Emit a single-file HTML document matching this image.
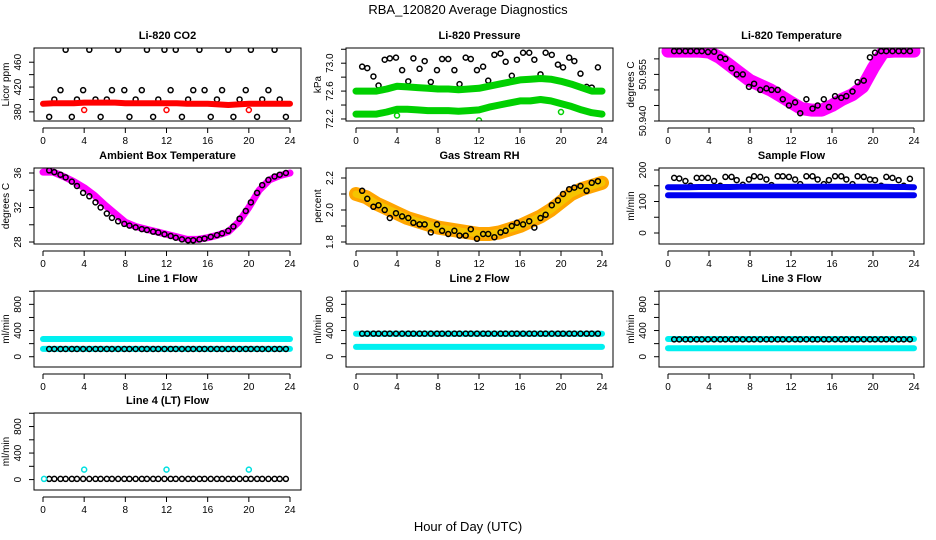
<!DOCTYPE html>
<html><head><meta charset="utf-8"><style>
html,body{margin:0;padding:0;background:#fff;}
svg{display:block;font-family:"Liberation Sans",Arial,sans-serif;}
</style></head><body>
<svg id="chart" width="936" height="540" viewBox="0 0 936 540">
<text x="468" y="14" text-anchor="middle" font-size="13">RBA_120820  Average Diagnostics</text>
<text x="468" y="531" text-anchor="middle" font-size="13">Hour of Day (UTC)</text>
</svg>
<script>
const hours = [0,1,2,3,4,5,6,7,8,9,10,11,12,13,14,15,16,17,18,19,20,21,22,23,24];
const blackX = [0.6,1.1,1.7,2.2,2.8,3.3,3.9,4.5,5.1,5.6,6.2,6.7,7.3,7.9,8.4,9.0,9.6,10.1,10.7,11.2,11.8,12.4,12.9,13.5,14.1,14.6,15.2,15.7,16.3,16.9,17.4,18.0,18.5,19.1,19.7,20.2,20.8,21.3,21.9,22.5,23.0,23.6];
const xTicks = [0,4,8,12,16,20,24];
const outlierX = [4,12,20];

const co2Band = [393,394,394,394,395,395,395,395,394,394,394,394,394,394,393,393,393,392,391,392,393,393,393,393,393];
const co2Black = [372,400,415,480,372,400,415,480,400,372,400,415,480,415,372,400,415,480,372,400,480,415,480,372,400,415,480,415,372,400,415,480,372,400,415,480,372,400,415,480,400,372];
const co2Out = [383,383,383];

const presUpper = [72.6,72.6,72.6,72.63,72.67,72.66,72.65,72.64,72.63,72.63,72.62,72.63,72.64,72.67,72.7,72.73,72.76,72.77,72.78,72.77,72.74,72.7,72.65,72.6,72.6];
const presLower = [72.27,72.27,72.27,72.3,72.34,72.34,72.33,72.32,72.32,72.32,72.31,72.32,72.33,72.37,72.4,72.43,72.46,72.46,72.48,72.46,72.42,72.38,72.33,72.29,72.27];
const presBlack = [72.95,72.93,72.81,72.68,73.05,73.07,73.08,72.9,72.74,73.07,72.92,73.03,72.73,72.9,73.06,73.06,72.9,72.7,73.08,73.06,72.9,72.95,72.75,73.12,73.14,73.02,72.82,73.05,73.15,73.15,73.05,72.84,73.15,73.12,72.98,72.94,73.08,73.03,72.85,72.66,72.65,72.94];
const presOut = [72.25,72.18,72.3];

const tempBand = [50.9625,50.9625,50.9625,50.9625,50.9622,50.9605,50.958,50.9555,50.953,50.9515,50.950,50.948,50.946,50.944,50.9435,50.9435,50.945,50.947,50.9485,50.951,50.957,50.9622,50.9625,50.9625,50.9625];
const tempBlack = [50.9625,50.9625,50.9625,50.9625,50.9625,50.9625,50.9622,50.9623,50.9605,50.960,50.957,50.955,50.955,50.951,50.952,50.950,50.9505,50.950,50.950,50.947,50.945,50.946,50.9425,50.947,50.944,50.945,50.947,50.9445,50.948,50.9475,50.948,50.9495,50.9525,50.953,50.9605,50.962,50.9625,50.9625,50.9625,50.9625,50.9625,50.9625];

const ambBand = [36.1,36.1,35.6,35.0,34.3,33.4,32.3,31.3,30.3,29.8,29.5,29.2,28.9,28.6,28.3,28.3,28.5,28.8,29.2,30.3,32.0,34.0,35.2,35.7,36.0];
const ambBlack = [36.3,36.1,35.8,35.5,35.0,34.5,33.7,33.3,32.6,32.0,31.3,30.8,30.4,30.1,29.9,29.7,29.5,29.4,29.2,29.1,28.9,28.7,28.5,28.3,28.2,28.2,28.3,28.4,28.6,28.8,29.0,29.3,29.8,30.7,31.6,32.6,33.7,34.6,35.2,35.6,35.8,36.0];

const rhBand = [2.10,2.08,2.04,2.01,1.98,1.95,1.93,1.91,1.89,1.88,1.87,1.86,1.85,1.85,1.86,1.88,1.90,1.93,1.96,2.00,2.05,2.10,2.13,2.15,2.17];
const rhBlack = [2.12,2.07,2.02,2.03,2.00,1.95,1.98,1.96,1.95,1.92,1.91,1.91,1.86,1.91,1.87,1.85,1.87,1.84,1.84,1.88,1.82,1.85,1.85,1.83,1.86,1.87,1.90,1.92,1.91,1.93,1.89,1.95,1.97,2.03,2.06,2.10,2.13,2.14,2.15,2.12,2.17,2.18];

const flowUpper = [145,145,145,146,146,146,146,147,147,147,147,147,147,147,147,147,147,147,147,147,147,147,146,146,145];
const flowLower = [120,120,120,120,120,120,120,120,120,120,120,120,120,120,120,120,120,120,120,120,120,120,120,120,120];
const flowBlack = [175,173,165,150,175,175,175,165,150,178,178,168,153,170,180,178,170,152,180,180,178,170,155,180,180,170,155,168,180,180,170,155,180,178,170,168,150,178,175,168,150,172];

const line1Cyan = [270,270,270,270,270,270,270,270,270,270,270,270,270,270,270,270,270,270,270,270,270,270,270,270,270];
const line1Cyan2 = [120,120,120,120,120,120,120,120,120,120,120,120,120,120,120,120,120,120,120,120,120,120,120,120,120];
const line1Black = Array(42).fill(118);
const line2Cyan = [150,150,150,150,150,150,150,150,150,150,150,150,150,150,150,150,150,150,150,150,150,150,150,150,150];
const line2Cyan2 = [350,350,350,350,350,350,350,350,350,350,350,350,350,350,350,350,350,350,350,350,350,350,350,350,350];
const line2Black = Array(42).fill(352);
const line3Cyan = [130,130,130,130,130,130,130,130,130,130,130,130,130,130,130,130,130,130,130,130,130,130,130,130,130];
const line3Cyan2 = [270,270,270,270,270,270,270,270,270,270,270,270,270,270,270,270,270,270,270,270,270,270,270,270,270];
const line3Black = Array(42).fill(265);
const line4Black = Array(42).fill(10);
const line4Out = [150,150,150];

const svg = document.getElementById('chart');
const NS = 'http://www.w3.org/2000/svg';
function mk(tag, attrs, parent){ const e=document.createElementNS(NS,tag); for(const k in attrs) e.setAttribute(k,attrs[k]); (parent||svg).appendChild(e); return e; }

const cols = [{l:34,r:301,x0:43,x24:290},{l:346,r:613,x0:356,x24:602},{l:659,r:924,x0:668,x24:914}];
const rows = [{t:48,b:121},{t:168,b:244},{t:291,b:367},{t:413,b:490}];

function panel(id, title, ylab, c, r, dom, ticks, labels, draw){
  const C=cols[c], R=rows[r];
  const g = mk('g',{});
  
  
  const xs = h => C.x0 + (C.x24-C.x0)*h/24;
  const ys = v => R.b - (v-dom[0])/(dom[1]-dom[0])*(R.b-R.t);
  const clipId='clip-'+id;
  const cp=mk('clipPath',{id:clipId},g); mk('rect',{x:C.l,y:R.t,width:C.r-C.l,height:R.b-R.t},cp);
  const plot = mk('g',{'clip-path':'url(#'+clipId+')'},g);
  
  
  draw(plot, xs, ys);
  const box = mk('rect',{x:C.l,y:R.t,width:C.r-C.l,height:R.b-R.t,fill:'none',stroke:'#000','stroke-width':1},g);
  
  
  const t = mk('text',{x:(C.l+C.r)/2,y:R.t-9,'text-anchor':'middle','font-size':11,'font-weight':'bold'},g);
  t.textContent=title;
  
  
  // x axis
  mk('line',{x1:xs(0),x2:xs(24),y1:R.b+7,y2:R.b+7,stroke:'#000'},g);
  xTicks.forEach(h=>{
    mk('line',{x1:xs(h),x2:xs(h),y1:R.b+7,y2:R.b+12,stroke:'#000'},g);
    const tl=mk('text',{x:xs(h),y:R.b+23,'text-anchor':'middle','font-size':10},g);
    tl.textContent=h;
    
    
  });
  // y axis
  ticks.forEach(v=>{
    mk('line',{x1:C.l-5,x2:C.l,y1:ys(v),y2:ys(v),stroke:'#000'},g);
  });
  labels.forEach(lb=>{
    const yy=ys(lb[0]);
    const tl=mk('text',{x:C.l-13,y:yy,'text-anchor':'middle','font-size':10,transform:`rotate(-90 ${C.l-13} ${yy})`},g);
    tl.textContent=lb[1];
    
    
  });
  const my=(R.t+R.b)/2, mx=C.l-25;
  const yt=mk('text',{x:mx,y:my,'text-anchor':'middle','font-size':10,transform:`rotate(-90 ${mx} ${my})`},g);
  yt.textContent=ylab;
  
  
}

function band(p, xs, ys, vals, color, w){
  const pts = hours.map((h,i)=>xs(h).toFixed(1)+','+ys(vals[i]).toFixed(1)).join(' ');
  const pl=mk('polyline',{points:pts,fill:'none',stroke:color,'stroke-width':w,'stroke-linecap':'round','stroke-linejoin':'round'},p);
  
  
}
function pts(p, xs, ys, X, Y, color){
  X.forEach((h,i)=>{
    const c=mk('circle',{cx:xs(h),cy:ys(Y[i]),r:2.5,fill:'none',stroke:color,'stroke-width':1.5},p);
    
    
  });
}

panel('co2','Li-820 CO2','Licor ppm',0,0,[365.3,482.9],[380,400,420,440,460],[[380,'380'],[420,'420'],[460,'460']],(p,xs,ys)=>{
  pts(p,xs,ys,blackX,co2Black,'#000');
  band(p,xs,ys,co2Band,'#f00',6);
  pts(p,xs,ys,outlierX,co2Out,'#f00');
});
panel('pressure','Li-820 Pressure','kPa',1,0,[72.171,73.218],[72.2,72.4,72.6,72.8,73.0,73.2],[[72.2,'72.2'],[72.6,'72.6'],[73.0,'73.0']],(p,xs,ys)=>{
  pts(p,xs,ys,blackX,presBlack,'#000');
  band(p,xs,ys,presUpper,'#00d000',7);
  band(p,xs,ys,presLower,'#00d000',7);
  pts(p,xs,ys,outlierX,presOut,'#00d000');
});
panel('li820-temp','Li-820 Temperature','degrees C',2,0,[50.940,50.9635],[50.940,50.945,50.950,50.955,50.960],[[50.940,'50.940'],[50.955,'50.955']],(p,xs,ys)=>{
  band(p,xs,ys,tempBand,'#f0f',13);
  pts(p,xs,ys,blackX,tempBlack,'#000');
});
panel('ambient','Ambient Box Temperature','degrees C',0,1,[27.77,36.58],[28,30,32,34,36],[[28,'28'],[32,'32'],[36,'36']],(p,xs,ys)=>{
  band(p,xs,ys,ambBand,'#f0f',7);
  pts(p,xs,ys,blackX,ambBlack,'#000');
});
panel('rh','Gas Stream RH','percent',1,1,[1.7875,2.2625],[1.8,1.9,2.0,2.1,2.2],[[1.8,'1.8'],[2.0,'2.0'],[2.2,'2.2']],(p,xs,ys)=>{
  band(p,xs,ys,rhBand,'#ffa500',14);
  band(p,xs,ys,rhBand,'#f5c400',7);
  pts(p,xs,ys,blackX,rhBlack,'#000');
});
panel('sample-flow','Sample Flow','ml/min',2,1,[-34.9,206.3],[0,50,100,150,200],[[0,'0'],[100,'100'],[200,'200']],(p,xs,ys)=>{
  pts(p,xs,ys,blackX,flowBlack,'#000');
  band(p,xs,ys,flowUpper,'#0000f0',6);
  band(p,xs,ys,flowLower,'#0000f0',6);
});
const flowDom=[-157,1004], flowTicks=[0,200,400,600,800,1000], flowLabels=[[0,'0'],[400,'400'],[800,'800']];
panel('line1','Line 1 Flow','ml/min',0,2,flowDom,flowTicks,flowLabels,(p,xs,ys)=>{
  band(p,xs,ys,line1Cyan,'#00f0f0',6);
  band(p,xs,ys,line1Cyan2,'#00f0f0',6);
  pts(p,xs,ys,blackX,line1Black,'#000');
});
panel('line2','Line 2 Flow','ml/min',1,2,flowDom,flowTicks,flowLabels,(p,xs,ys)=>{
  band(p,xs,ys,line2Cyan,'#00f0f0',6);
  band(p,xs,ys,line2Cyan2,'#00f0f0',6);
  pts(p,xs,ys,blackX,line2Black,'#000');
});
panel('line3','Line 3 Flow','ml/min',2,2,flowDom,flowTicks,flowLabels,(p,xs,ys)=>{
  band(p,xs,ys,line3Cyan,'#00f0f0',6);
  band(p,xs,ys,line3Cyan2,'#00f0f0',6);
  pts(p,xs,ys,blackX,line3Black,'#000');
});
panel('line4','Line 4 (LT) Flow','ml/min',0,3,flowDom,flowTicks,flowLabels,(p,xs,ys)=>{
  pts(p,xs,ys,blackX,line4Black,'#000');
  pts(p,xs,ys,outlierX,line4Out,'#00e0e0');
  pts(p,xs,ys,[0.1],[10],'#00e0e0');
});
</script>
</body></html>
